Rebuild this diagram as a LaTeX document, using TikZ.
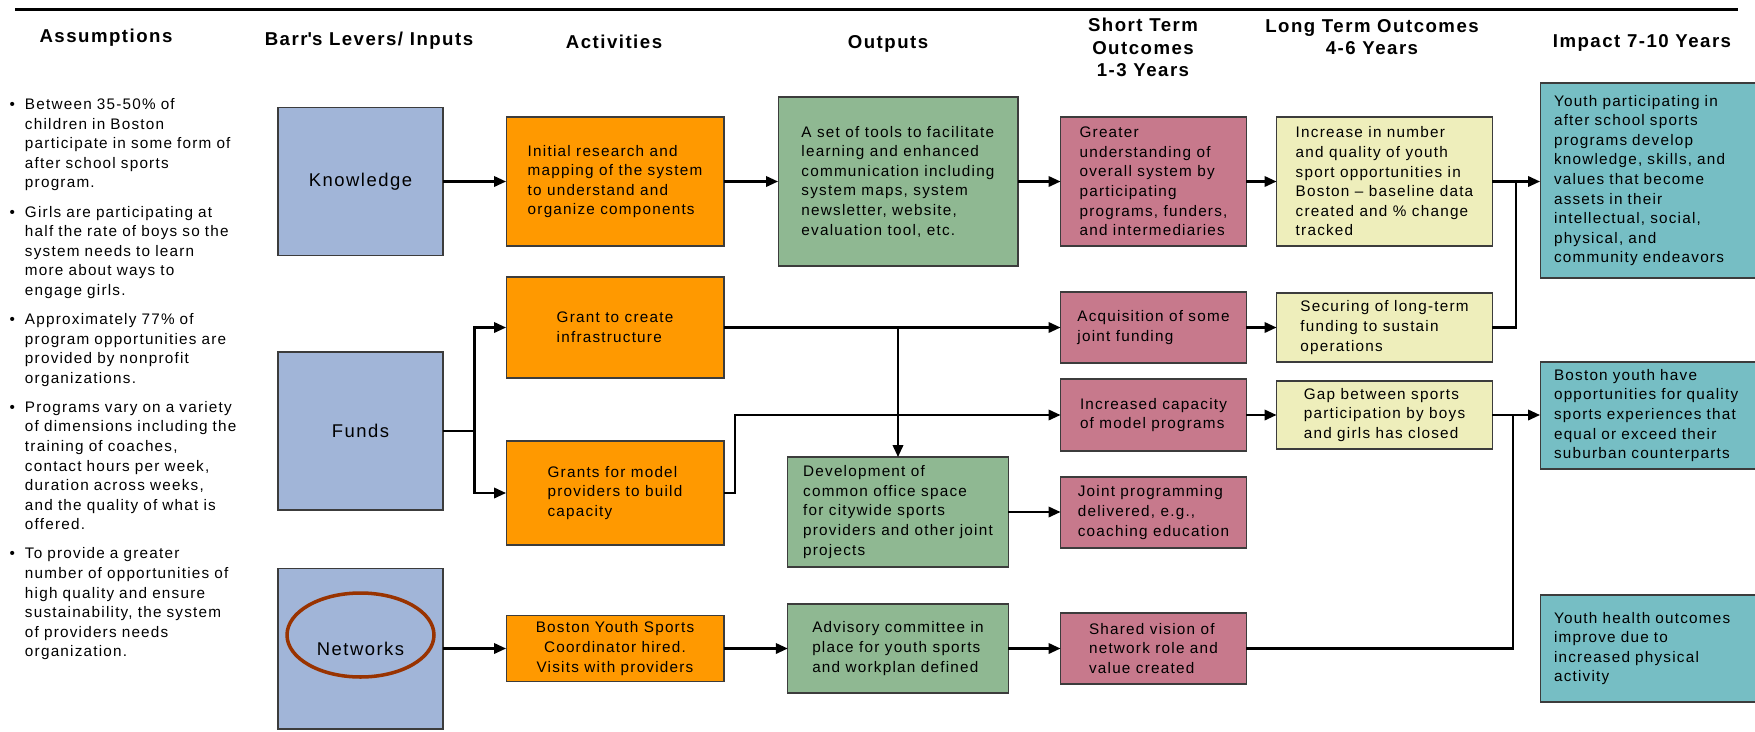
\documentclass[tikz,border=0pt]{standalone}
\usepackage{fontspec}
\setmainfont{Liberation Sans}[LetterSpace=8]
\usetikzlibrary{arrows.meta,shapes.geometric}
\definecolor{levercol}{RGB}{161,181,216}
\definecolor{actcol}{RGB}{255,153,0}
\definecolor{outcol}{RGB}{143,184,146}
\definecolor{shortcol}{RGB}{199,121,140}
\definecolor{longcol}{RGB}{238,238,187}
\definecolor{impactcol}{RGB}{118,190,196}
\definecolor{ringcol}{RGB}{153,51,0}
\definecolor{edgecol}{RGB}{60,60,60}
\newcommand{\bodyfont}{\fontsize{8.7pt}{11.15pt}\selectfont}
\newcommand{\headfont}{\fontsize{10.6pt}{12.8pt}\selectfont\bfseries}
\begin{document}
\begin{tikzpicture}[x=0.02cm,y=-0.02cm,inner sep=0pt,outer sep=0pt,very thick,
>={Triangle[length=2.4mm,width=2.1mm]},
head/.style={font=\headfont,align=center},
box/.style={draw=edgecol,line width=0.6pt,rectangle,align=left,font=\bodyfont},
lever/.style={box,fill=levercol,minimum width=3.3cm,font=\fontsize{10.5pt}{12.6pt}\selectfont},
ring/.style={draw=ringcol,line width=2pt,ellipse,minimum width=2.94cm,minimum height=1.68cm},
act/.style={box,fill=actcol,minimum width=4.36cm},
outbox/.style={box,fill=outcol},
short/.style={box,fill=shortcol,minimum width=3.72cm},
long/.style={box,fill=longcol,minimum width=4.32cm},
impact/.style={box,fill=impactcol,text width=3.96cm,inner xsep=0.28cm}]
\useasboundingbox (0,0) rectangle (1755,731);
\draw[line width=1.5pt] (15,9.5) -- (1738,9.5);
\draw (106,42) node[head,anchor=base] (hassume) {Assumptions};
\draw (369,45) node[head,anchor=base] (hlever) {Barr\textquotesingle s Levers/ Inputs};
\draw (614,48) node[head,anchor=base] (hact) {Activities};
\draw (888,48) node[head,anchor=base] (hout) {Outputs};
\draw (1143,18.4) node[head,anchor=north] (hshort) {Short Term\\Outcomes\\1-3 Years};
\draw (1372,19.4) node[head,anchor=north] (hlong) {Long Term Outcomes\\4-6 Years};
\draw (1642,47) node[head,anchor=base] (himpact) {Impact 7-10 Years};
\draw (0,90) node[anchor=north west,text width=5.2cm,align=left,font=\bodyfont] (assume) {%
\begin{list}{\textbullet}{\setlength{\leftmargin}{0.5cm}\setlength{\labelwidth}{0.3cm}\setlength{\labelsep}{0.2cm}%
\setlength{\itemsep}{5.4pt}\setlength{\parsep}{0pt}\setlength{\topsep}{0pt}\setlength{\partopsep}{0pt}}
\item Between 35-50\% of\\children in Boston\\participate in some form of\\after school sports\\program.
\item Girls are participating at\\half the rate of boys so the\\system needs to learn\\more about ways to\\engage girls.
\item Approximately 77\% of\\program opportunities are\\provided by nonprofit\\organizations.
\item Programs vary on a variety\\of dimensions including the\\training of coaches,\\contact hours per week,\\duration across weeks,\\and the quality of what is\\offered.
\item To provide a greater\\number of opportunities of\\high quality and ensure\\sustainability, the system\\of providers needs\\organization.
\end{list}};
\draw (360.5,181.5) node[lever,minimum height=2.96cm] (know) {Knowledge};
\draw (360.5,431) node[lever,minimum height=3.16cm] (funds) {Funds};
\draw (360.5,648.5) node[lever,minimum height=3.22cm] (netw) {Networks};
\draw (360.5,635) node[ring] (netring) {};
\draw (615,181.5) node[act,minimum height=2.58cm] (act1) {Initial research and\\mapping of the system\\to understand and\\organize components};
\draw (615,327.5) node[act,minimum height=2.02cm] (act2) {Grant to create\\infrastructure};
\draw (615,493) node[act,minimum height=2.08cm] (act3) {Grants for model\\providers to build\\capacity};
\draw (615,648.5) node[act,minimum height=1.32cm,align=center] (act4) {Boston Youth Sports\\Coordinator hired.\\Visits with providers};
\draw (898,181.5) node[outbox,minimum width=4.8cm,minimum height=3.38cm] (out1) {A set of tools to facilitate\\learning and enhanced\\communication including\\system maps, system\\newsletter, website,\\evaluation tool, etc.};
\draw (898,512) node[outbox,minimum width=4.41cm,minimum height=2.2cm] (out2) {Development of\\common office space\\for citywide sports\\providers and other joint\\projects};
\draw (898,648.5) node[outbox,minimum width=4.41cm,minimum height=1.78cm] (out3) {Advisory committee in\\place for youth sports\\and workplan defined};
\draw (1153.5,181.5) node[short,minimum height=2.58cm] (st1) {Greater\\understanding of\\overall system by\\participating\\programs, funders,\\and intermediaries};
\draw (1153.5,327.5) node[short,minimum height=1.42cm] (st2) {Acquisition of some\\joint funding};
\draw (1153.5,415) node[short,minimum height=1.44cm] (st3) {Increased capacity\\of model programs};
\draw (1153.5,512.5) node[short,minimum height=1.42cm] (st4) {Joint programming\\delivered, e.g.,\\coaching education};
\draw (1153.5,648.5) node[short,minimum height=1.42cm] (st5) {Shared vision of\\network role and\\value created};
\draw (1384.5,181.5) node[long,minimum height=2.58cm] (lt1) {Increase in number\\and quality of youth\\sport opportunities in\\Boston -- baseline data\\created and \% change\\tracked};
\draw (1384.5,327.5) node[long,minimum height=1.38cm] (lt2) {Securing of long-term\\funding to sustain\\operations};
\draw (1384.5,415) node[long,minimum height=1.36cm] (lt3) {Gap between sports\\participation by boys\\and girls has closed};
\draw (1653,180.5) node[impact,minimum height=3.9cm] (im1) {Youth participating in\\after school sports\\programs develop\\knowledge, skills, and\\values that become\\assets in their\\intellectual, social,\\physical, and\\community endeavors};
\draw (1653,415.5) node[impact,minimum height=2.14cm] (im2) {Boston youth have\\opportunities for quality\\sports experiences that\\equal or exceed their\\suburban counterparts};
\draw (1653,648.5) node[impact,minimum height=2.14cm] (im3) {Youth health outcomes\\improve due to\\increased physical\\activity};
\coordinate (fork) at (474.5,431);
\coordinate (j1) at (1516,181.5);
\coordinate (j2) at (1513,415);
\draw[->] (know) -- (act1);
\draw[->] (act1) -- (out1);
\draw[->] (out1) -- (st1);
\draw[->] (st1) -- (lt1);
\draw[->] (lt1.east) -- (lt1.east -| im1.west);
\draw (lt2.east) -| (j1);
\draw (funds.east) -- (fork);
\draw[->] (fork) |- (act2.west);
\draw[->] (fork) |- (act3.west);
\draw[->] (act2) -- (st2);
\draw[->] (act2.east -| out2.north) -- (out2.north);
\draw[->] (act3.east) -- ++(11,0) |- (st3.west);
\draw[->] (out2.east) -- (out2.east -| st4.west);
\draw[->] (netw) -- (act4);
\draw[->] (act4) -- (out3);
\draw[->] (out3) -- (st5);
\draw[->] (st2) -- (lt2);
\draw[->] (st3) -- (lt3);
\draw[->] (lt3.east) -- (lt3.east -| im2.west);
\draw (st5.east) -| (j2);
\end{tikzpicture}
\end{document}
